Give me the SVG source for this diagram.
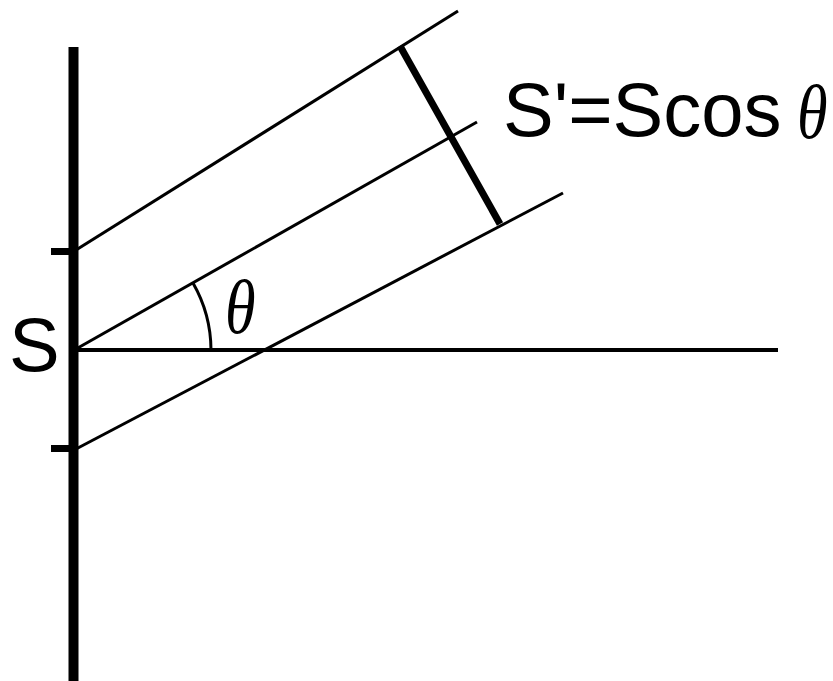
<svg xmlns="http://www.w3.org/2000/svg" width="833" height="681" viewBox="0 0 833 681">
<style>
.thin{stroke:#000;stroke-width:3;fill:none;stroke-linecap:butt}
.thick{stroke:#000;stroke-width:10;fill:none}
.lbl{font-family:"Liberation Sans",Arial,sans-serif;font-size:76px;fill:#000}
.greek{font-family:"Liberation Serif","Times New Roman",serif;font-style:italic;font-size:76px;fill:#000}
</style>
<rect width="833" height="681" fill="#fff"/>
<g id="surface">
<line class="thick" x1="73.5" y1="47" x2="73.5" y2="681"/>
<line x1="51" y1="251.5" x2="74" y2="251.5" stroke="#000" stroke-width="7"/>
<line x1="51" y1="448.5" x2="74" y2="448.5" stroke="#000" stroke-width="7"/>
</g>
<g id="connectors">
<line x1="75" y1="350" x2="778" y2="350" stroke="#000" stroke-width="4"/>
<line class="thin" x1="76" y1="250" x2="458" y2="11"/>
<line class="thin" x1="76" y1="349" x2="477" y2="122"/>
<line class="thin" x1="76" y1="449" x2="563" y2="193"/>
<line x1="400" y1="46" x2="500" y2="224" stroke="#000" stroke-width="7"/>
<path class="thin" d="M 193 283 A 136 136 0 0 1 211 350"/>
</g>
<g id="labels">
<text class="lbl" x="9" y="371">S</text>
<text class="lbl" x="503" y="136">S'=Scos</text>
<text class="greek" transform="translate(797,138) scale(0.82,1)">θ</text>
<text class="greek" transform="translate(225,333) scale(0.82,1)">θ</text>
</g>
</svg>
